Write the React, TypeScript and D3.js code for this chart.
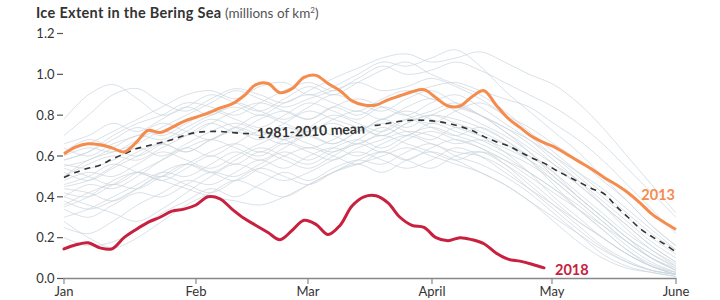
import React from "react";
import * as d3 from "d3";

// x positions are day-of-year (0 = Jan 1); the axis runs from day -2 to day 151 (June 1)
const startDay = -2;
const endDay = 151;
const mainStep = 3; // main series sampled every 3 days
const bgCount = 26; // other years: 26 evenly spaced samples

const monthLabels = ["Jan", "Feb", "Mar", "April", "May", "June"];
const monthDays = [-2, 31, 59, 90, 120, 151];
const yTicks = [0, 0.2, 0.4, 0.6, 0.8, 1.0, 1.2];

const series2013 = [
  0.61, 0.645, 0.66, 0.655, 0.64, 0.62, 0.665, 0.725, 0.715, 0.74, 0.77, 0.79, 0.81,
  0.835, 0.855, 0.895, 0.95, 0.955, 0.91, 0.93, 0.985, 0.995, 0.955, 0.92, 0.87, 0.85,
  0.85, 0.875, 0.895, 0.915, 0.925, 0.885, 0.845, 0.845, 0.89, 0.92, 0.85, 0.785, 0.74,
  0.695, 0.665, 0.64, 0.605, 0.57, 0.535, 0.495, 0.46, 0.42, 0.37, 0.315, 0.275, 0.24,
];

const series2018 = [
  0.145, 0.165, 0.175, 0.15, 0.145, 0.2, 0.24, 0.275, 0.3, 0.33, 0.34, 0.36, 0.4, 0.39,
  0.34, 0.295, 0.26, 0.225, 0.19, 0.235, 0.285, 0.265, 0.215, 0.26, 0.355, 0.4, 0.405,
  0.37, 0.3, 0.26, 0.25, 0.2, 0.185, 0.2, 0.19, 0.17, 0.125, 0.095, 0.085, 0.07, 0.052,
];

const seriesMean = [
  0.495, 0.52, 0.54, 0.555, 0.585, 0.61, 0.635, 0.65, 0.665, 0.68, 0.7, 0.715, 0.72,
  0.72, 0.715, 0.71, 0.71, 0.715, 0.72, 0.725, 0.73, 0.735, 0.74, 0.74, 0.745, 0.745,
  0.75, 0.76, 0.77, 0.775, 0.775, 0.77, 0.76, 0.745, 0.725, 0.695, 0.67, 0.65, 0.62,
  0.59, 0.565, 0.53, 0.5, 0.47, 0.44, 0.415, 0.355, 0.3, 0.245, 0.205, 0.17, 0.13,
];

// other years (1981-2017), 26 evenly spaced samples each
const otherYears = [
  [0.70, 0.80, 0.90, 0.93, 0.86, 0.82, 0.88, 0.93, 0.90, 0.86, 0.92, 0.98, 1.03, 1.08, 1.10, 1.06, 1.08, 1.11, 1.06, 1.00, 0.95, 0.86, 0.74, 0.60, 0.46, 0.32],
  [0.78, 0.90, 0.95, 0.88, 0.80, 0.84, 0.90, 0.86, 0.82, 0.88, 0.94, 0.90, 0.96, 1.02, 1.06, 1.00, 0.95, 0.90, 0.82, 0.72, 0.62, 0.52, 0.42, 0.32, 0.22, 0.14],
  [0.62, 0.66, 0.72, 0.78, 0.84, 0.90, 0.92, 0.88, 0.94, 0.96, 0.90, 0.94, 1.00, 1.06, 1.04, 1.08, 1.12, 1.04, 0.92, 0.82, 0.72, 0.62, 0.50, 0.38, 0.26, 0.16],
  [0.60, 0.64, 0.62, 0.68, 0.74, 0.80, 0.86, 0.92, 0.88, 0.84, 0.88, 0.92, 0.96, 0.92, 0.94, 0.98, 0.94, 0.88, 0.80, 0.70, 0.60, 0.50, 0.40, 0.30, 0.20, 0.12],
  [0.55, 0.58, 0.64, 0.70, 0.68, 0.74, 0.80, 0.84, 0.80, 0.86, 0.90, 0.86, 0.82, 0.88, 0.92, 0.88, 0.84, 0.80, 0.74, 0.66, 0.56, 0.46, 0.36, 0.26, 0.16, 0.08],
  [0.50, 0.56, 0.60, 0.58, 0.64, 0.70, 0.76, 0.72, 0.78, 0.82, 0.78, 0.84, 0.88, 0.84, 0.80, 0.86, 0.90, 0.84, 0.76, 0.68, 0.58, 0.48, 0.36, 0.24, 0.14, 0.06],
  [0.45, 0.48, 0.55, 0.62, 0.66, 0.62, 0.68, 0.74, 0.80, 0.76, 0.72, 0.78, 0.82, 0.78, 0.84, 0.88, 0.82, 0.76, 0.70, 0.62, 0.52, 0.40, 0.30, 0.20, 0.12, 0.05],
  [0.40, 0.46, 0.44, 0.50, 0.58, 0.64, 0.60, 0.66, 0.72, 0.68, 0.74, 0.80, 0.76, 0.72, 0.78, 0.82, 0.86, 0.80, 0.72, 0.62, 0.50, 0.40, 0.30, 0.20, 0.10, 0.04],
  [0.35, 0.40, 0.48, 0.52, 0.50, 0.56, 0.62, 0.66, 0.62, 0.68, 0.74, 0.70, 0.66, 0.72, 0.78, 0.74, 0.70, 0.74, 0.68, 0.58, 0.46, 0.34, 0.24, 0.14, 0.07, 0.03],
  [0.30, 0.34, 0.40, 0.46, 0.52, 0.50, 0.56, 0.62, 0.58, 0.64, 0.70, 0.66, 0.72, 0.76, 0.72, 0.68, 0.74, 0.70, 0.62, 0.52, 0.40, 0.30, 0.20, 0.12, 0.06, 0.02],
  [0.25, 0.22, 0.28, 0.36, 0.42, 0.48, 0.46, 0.52, 0.58, 0.54, 0.60, 0.64, 0.60, 0.66, 0.70, 0.66, 0.62, 0.60, 0.54, 0.44, 0.34, 0.24, 0.15, 0.08, 0.04, 0.02],
  [0.20, 0.16, 0.18, 0.24, 0.32, 0.38, 0.44, 0.40, 0.46, 0.52, 0.48, 0.54, 0.58, 0.56, 0.62, 0.66, 0.60, 0.56, 0.50, 0.42, 0.32, 0.22, 0.12, 0.06, 0.03, 0.01],
  [0.28, 0.20, 0.15, 0.20, 0.28, 0.36, 0.42, 0.48, 0.44, 0.40, 0.46, 0.52, 0.56, 0.52, 0.58, 0.62, 0.58, 0.52, 0.46, 0.38, 0.28, 0.18, 0.10, 0.05, 0.03, 0.01],
  [0.48, 0.52, 0.50, 0.56, 0.62, 0.58, 0.54, 0.60, 0.66, 0.70, 0.66, 0.62, 0.68, 0.74, 0.70, 0.76, 0.72, 0.68, 0.62, 0.56, 0.48, 0.38, 0.28, 0.18, 0.10, 0.04],
  [0.66, 0.70, 0.76, 0.72, 0.78, 0.84, 0.80, 0.86, 0.82, 0.78, 0.84, 0.90, 0.86, 0.82, 0.88, 0.92, 0.86, 0.80, 0.74, 0.68, 0.60, 0.52, 0.44, 0.34, 0.24, 0.14],
  [0.58, 0.62, 0.68, 0.74, 0.70, 0.76, 0.82, 0.78, 0.74, 0.80, 0.86, 0.82, 0.78, 0.84, 0.80, 0.76, 0.82, 0.86, 0.80, 0.74, 0.66, 0.58, 0.48, 0.38, 0.26, 0.16],
  [0.52, 0.48, 0.54, 0.60, 0.66, 0.62, 0.68, 0.72, 0.68, 0.74, 0.70, 0.66, 0.72, 0.78, 0.82, 0.78, 0.74, 0.70, 0.66, 0.60, 0.54, 0.46, 0.36, 0.26, 0.16, 0.08],
  [0.42, 0.40, 0.46, 0.52, 0.48, 0.54, 0.60, 0.56, 0.62, 0.58, 0.54, 0.60, 0.66, 0.62, 0.68, 0.72, 0.68, 0.64, 0.58, 0.50, 0.42, 0.34, 0.26, 0.18, 0.10, 0.04],
  [0.38, 0.34, 0.38, 0.44, 0.50, 0.46, 0.42, 0.48, 0.54, 0.50, 0.46, 0.52, 0.58, 0.62, 0.58, 0.54, 0.60, 0.62, 0.56, 0.48, 0.38, 0.28, 0.20, 0.12, 0.06, 0.02],
  [0.46, 0.50, 0.56, 0.52, 0.48, 0.44, 0.40, 0.38, 0.36, 0.40, 0.46, 0.52, 0.56, 0.60, 0.64, 0.60, 0.56, 0.52, 0.46, 0.38, 0.30, 0.22, 0.14, 0.08, 0.04, 0.02],
  [0.64, 0.60, 0.66, 0.70, 0.76, 0.72, 0.68, 0.74, 0.70, 0.66, 0.72, 0.76, 0.72, 0.78, 0.74, 0.80, 0.84, 0.80, 0.72, 0.64, 0.56, 0.48, 0.38, 0.28, 0.18, 0.10],
  [0.56, 0.54, 0.58, 0.64, 0.60, 0.66, 0.72, 0.76, 0.72, 0.68, 0.64, 0.68, 0.74, 0.70, 0.76, 0.80, 0.76, 0.72, 0.66, 0.58, 0.48, 0.38, 0.28, 0.18, 0.10, 0.05],
  [0.50, 0.58, 0.62, 0.66, 0.72, 0.70, 0.76, 0.82, 0.86, 0.82, 0.78, 0.84, 0.80, 0.86, 0.90, 0.94, 0.96, 0.92, 0.88, 0.84, 0.76, 0.68, 0.58, 0.46, 0.34, 0.22],
  [0.34, 0.30, 0.36, 0.42, 0.40, 0.46, 0.52, 0.50, 0.56, 0.62, 0.58, 0.64, 0.68, 0.64, 0.70, 0.74, 0.70, 0.66, 0.60, 0.52, 0.44, 0.36, 0.26, 0.16, 0.08, 0.03],
  [0.44, 0.42, 0.38, 0.44, 0.52, 0.56, 0.52, 0.58, 0.64, 0.60, 0.56, 0.62, 0.66, 0.70, 0.66, 0.62, 0.58, 0.62, 0.58, 0.52, 0.44, 0.34, 0.24, 0.14, 0.06, 0.02],
  [0.62, 0.68, 0.64, 0.60, 0.66, 0.72, 0.78, 0.74, 0.70, 0.76, 0.82, 0.78, 0.74, 0.70, 0.76, 0.80, 0.78, 0.74, 0.68, 0.60, 0.52, 0.42, 0.32, 0.22, 0.14, 0.07],
  [0.36, 0.42, 0.46, 0.44, 0.50, 0.56, 0.52, 0.48, 0.54, 0.60, 0.64, 0.60, 0.56, 0.62, 0.58, 0.64, 0.68, 0.64, 0.56, 0.46, 0.36, 0.26, 0.16, 0.09, 0.04, 0.02],
  [0.54, 0.50, 0.46, 0.52, 0.58, 0.64, 0.68, 0.64, 0.60, 0.66, 0.62, 0.58, 0.64, 0.68, 0.72, 0.70, 0.66, 0.68, 0.64, 0.58, 0.50, 0.40, 0.30, 0.20, 0.12, 0.06],
  [0.58, 0.62, 0.70, 0.76, 0.80, 0.86, 0.84, 0.80, 0.86, 0.92, 0.96, 0.92, 0.98, 1.04, 1.00, 1.02, 1.06, 1.02, 0.96, 0.90, 0.84, 0.76, 0.66, 0.54, 0.42, 0.30],
  [0.40, 0.36, 0.32, 0.28, 0.34, 0.42, 0.50, 0.56, 0.52, 0.48, 0.52, 0.58, 0.62, 0.58, 0.54, 0.58, 0.64, 0.60, 0.52, 0.44, 0.36, 0.28, 0.20, 0.12, 0.06, 0.03],
];

const W = 720;
const H = 300;
const FONT = "Lato, 'Open Sans', sans-serif";

export default function App() {
  const x = d3.scaleLinear().domain([startDay, endDay]).range([64, 676]);
  const y = d3.scaleLinear().domain([0, 1.2]).range([278.5, 33.5]);
  const bgStep = (endDay - startDay) / (bgCount - 1);

  const mainLine = d3
    .line<number>()
    .x((_, i) => x(startDay + i * mainStep))
    .y((d) => y(d))
    .curve(d3.curveCatmullRom.alpha(0.5));

  const bgLine = d3
    .line<number>()
    .x((_, i) => x(startDay + i * bgStep))
    .y((d) => y(d))
    .curve(d3.curveCatmullRom.alpha(0.5));

  // mean line is interrupted by its label
  const labelFrom = 251;
  const labelTo = 371;

  return (
    <svg
      width={W}
      height={H}
      style={{ position: "absolute", left: 0, top: 0, background: "#fff" }}
      fontFamily={FONT}
    >
      <defs>
        <clipPath id="meanClip">
          <rect x={0} y={0} width={labelFrom} height={H} />
          <rect x={labelTo} y={0} width={W - labelTo} height={H} />
        </clipPath>
      </defs>
      <text x={36} y={18} fill="#333">
        <tspan fontWeight="bold" fontSize={14.5} letterSpacing={0.3}>
          Ice Extent in the Bering Sea
        </tspan>
        <tspan fill="#555" fontSize={13.5}> (millions of km</tspan>
        <tspan fill="#555" fontSize={8} dy={-5}>2</tspan>
        <tspan fill="#555" fontSize={13.5} dy={5}>)</tspan>
      </text>

      {yTicks.map((t) => (
        <g key={t}>
          <text x={54.5} y={y(t)} dy="0.36em" textAnchor="end" fontSize={13} fill="#333">
            {t.toFixed(1)}
          </text>
          <line x1={57} x2={63} y1={y(t)} y2={y(t)} stroke="#555" strokeWidth={1.2} />
        </g>
      ))}

      <g>
        {otherYears.map((s, i) => (
          <path
            key={i}
            d={bgLine(s) || ""}
            fill="none"
            stroke="#c9d4dd"
            strokeOpacity={0.7}
            strokeWidth={1}
          />
        ))}
      </g>

      <path
        d={mainLine(seriesMean) || ""}
        clipPath="url(#meanClip)"
        fill="none"
        stroke="#333"
        strokeWidth={1.6}
        strokeDasharray="6 5"
      />
      <text
        x={311}
        y={131}
        dy="0.35em"
        textAnchor="middle"
        fontSize={14}
        fontWeight="bold"
        fill="#333"
        transform="rotate(-2.6 311 131)"
      >
        1981-2010 mean
      </text>

      <path d={mainLine(series2013) || ""} fill="none" stroke="#f58c4e" strokeWidth={3} strokeLinejoin="round" />
      <path
        d={mainLine(series2018) || ""}
        fill="none"
        stroke="#c8203f"
        strokeWidth={3}
        strokeLinejoin="round"
        strokeLinecap="round"
      />

      <text x={675} y={200} textAnchor="end" fontSize={14.5} fontWeight="bold" fill="#f58c4e">
        2013
      </text>
      <text x={555} y={275} fontSize={14.5} fontWeight="bold" fill="#c8203f">
        2018
      </text>

      <line x1={63} x2={676.5} y1={278.5} y2={278.5} stroke="#888" strokeWidth={1.5} />
      {monthDays.map((d, i) => (
        <g key={monthLabels[i]}>
          <line x1={x(d)} x2={x(d)} y1={278.5} y2={284} stroke="#888" strokeWidth={1.2} />
          <text x={x(d)} y={296} textAnchor="middle" fontSize={13} fill="#333">
            {monthLabels[i]}
          </text>
        </g>
      ))}
    </svg>
  );
}
